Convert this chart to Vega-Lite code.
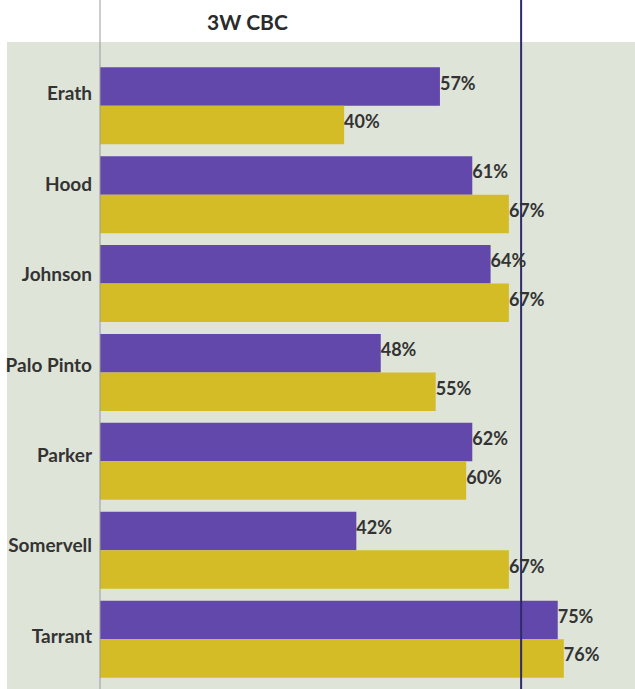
{
  "$schema": "https://vega.github.io/schema/vega-lite/v6.json",
  "width": 628,
  "height": 647,
  "autosize": {"type": "none"},
  "padding": {"left": 7, "top": 42, "right": 0, "bottom": 0},
  "background": "white",
  "config": {"view": {"fill": "#dfe4d8", "stroke": null}, "font": "Lato"},
  "title": {"text": "3W CBC", "anchor": "start", "frame": "group", "dx": 200, "dy": 22, "fontSize": 21, "font": "Lato", "fontWeight": "bold", "color": "#2b2b2b", "baseline": "alphabetic", "offset": -30},
  "datasets": {
    "scores": [
      {"county": "Erath", "series": "s1", "value": 55.7, "label": "57%"},
      {"county": "Erath", "series": "s2", "value": 40, "label": "40%"},
      {"county": "Hood", "series": "s1", "value": 61, "label": "61%"},
      {"county": "Hood", "series": "s2", "value": 67, "label": "67%"},
      {"county": "Johnson", "series": "s1", "value": 64, "label": "64%"},
      {"county": "Johnson", "series": "s2", "value": 67, "label": "67%"},
      {"county": "Palo Pinto", "series": "s1", "value": 46, "label": "48%"},
      {"county": "Palo Pinto", "series": "s2", "value": 55, "label": "55%"},
      {"county": "Parker", "series": "s1", "value": 61, "label": "62%"},
      {"county": "Parker", "series": "s2", "value": 60, "label": "60%"},
      {"county": "Somervell", "series": "s1", "value": 42, "label": "42%"},
      {"county": "Somervell", "series": "s2", "value": 67, "label": "67%"},
      {"county": "Tarrant", "series": "s1", "value": 75, "label": "75%"},
      {"county": "Tarrant", "series": "s2", "value": 76, "label": "76%"}
    ],
    "target": [{"target": 69}]
  },
  "layer": [
    {
      "data": {"name": "scores"},
      "mark": {"type": "bar"},
      "encoding": {
        "y": {"field": "county", "type": "nominal", "sort": null, "scale": {"type": "band", "paddingInner": 0.134, "paddingOuter": 0.206, "align": 0.69}, "axis": null},
        "yOffset": {"field": "series", "type": "nominal", "sort": null, "scale": {"type": "band", "paddingInner": 0, "paddingOuter": 0}},
        "x": {"field": "value", "type": "quantitative", "scale": {"domain": [-15.238, 87.66], "nice": false, "zero": false}, "axis": null, "stack": null},
        "x2": {"datum": 0},
        "color": {"field": "series", "type": "nominal", "scale": {"domain": ["s1", "s2"], "range": ["#6248aa", "#d4bc26"]}, "legend": null}
      }
    },
    {
      "data": {"values": [{}]},
      "mark": {"type": "rule", "color": "#9a9a9a", "strokeWidth": 1},
      "encoding": {
        "x": {"datum": 0, "type": "quantitative"},
        "y": {"datum": 0, "type": "quantitative", "scale": {"domain": [0, 1]}, "axis": null},
        "y2": {"datum": 1.065}
      }
    },
    {
      "data": {"name": "target"},
      "mark": {"type": "rule", "color": "#2d2a6e", "strokeWidth": 2},
      "encoding": {
        "x": {"field": "target", "type": "quantitative"},
        "y": {"datum": 0, "type": "quantitative", "scale": {"domain": [0, 1]}, "axis": null},
        "y2": {"datum": 1.065}
      }
    },
    {
      "data": {"name": "scores"},
      "mark": {"type": "text", "align": "left", "baseline": "middle", "dx": 0, "dy": -2, "fontSize": 18, "fontWeight": "bold", "color": "#333333"},
      "encoding": {
        "y": {"field": "county", "type": "nominal", "sort": null, "bandPosition": 0, "scale": {"type": "band", "paddingInner": 0.134, "paddingOuter": 0.206, "align": 0.69}, "axis": null},
        "yOffset": {"field": "series", "type": "nominal", "sort": null, "scale": {"type": "point", "padding": 0.5}},
        "x": {"field": "value", "type": "quantitative"},
        "text": {"field": "label", "type": "nominal"}
      }
    },
    {
      "data": {"name": "scores"},
      "transform": [{"filter": "datum.series == 's1'"}],
      "mark": {"type": "text", "align": "right", "baseline": "middle", "dx": -8, "fontSize": 19, "fontWeight": "bold", "color": "#333333"},
      "encoding": {
        "y": {"field": "county", "type": "nominal", "sort": null, "scale": {"type": "point", "padding": 0.58}, "axis": null},
        "x": {"datum": 0, "type": "quantitative"},
        "text": {"field": "county", "type": "nominal"}
      }
    }
  ],
  "resolve": {"scale": {"y": "independent", "yOffset": "independent"}}
}
